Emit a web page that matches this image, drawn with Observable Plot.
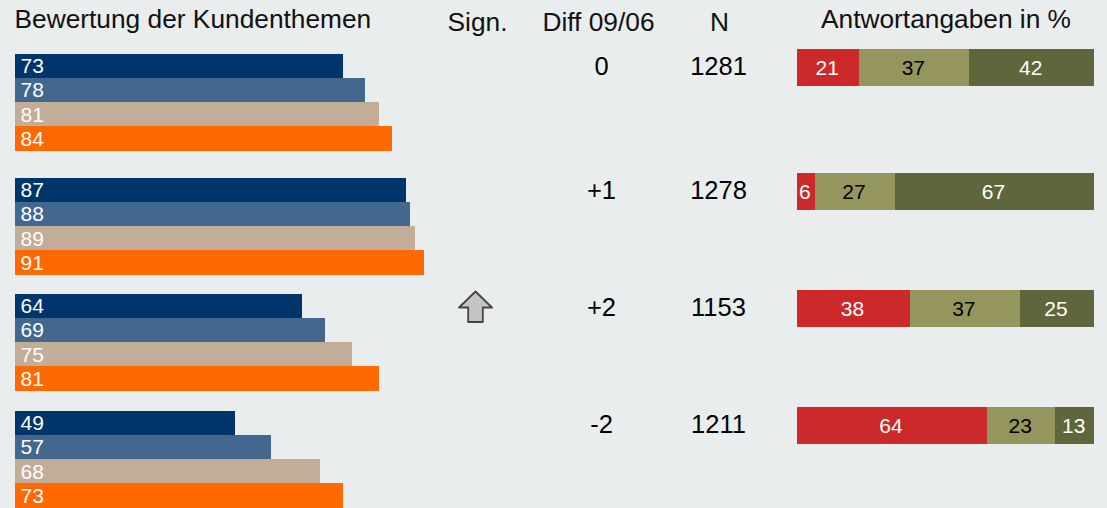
<!DOCTYPE html>
<html lang="de">
<head>
<meta charset="utf-8">
<script src="https://cdn.jsdelivr.net/npm/d3@7"></script>
<script src="https://cdn.jsdelivr.net/npm/@observablehq/plot@0.6"></script>
<style>
  html, body { margin: 0; padding: 0; background: #E9EDEE; }
  #chart { position: relative; width: 1107px; height: 508px; overflow: hidden; }
  #chart svg { position: absolute; left: 0; top: 0; background: transparent; }
</style>
</head>
<body>
<div id="chart"></div>
<script>
// ---- data ----
const topics = [0, 1, 2, 3];
const waves = ["Reihe 1", "Reihe 2", "Reihe 3", "Reihe 4"];
const waveColors = ["#00356B", "#426890", "#C2AD98", "#FF6900"];
const ratings = [
  [73, 78, 81, 84],
  [87, 88, 89, 91],
  [64, 69, 75, 81],
  [49, 57, 68, 73]
];
const signs = [0, 0, 1, 0];
const diffs = ["0", "+1", "+2", "-2"];
const counts = [1281, 1278, 1153, 1211];
const answerLevels = ["Stufe 1", "Stufe 2", "Stufe 3"];
const answerColors = ["#CC2A2A", "#95955E", "#60663C"];
const answerTextColors = ["#FFFFFF", "#000000", "#FFFFFF"];
const answers = [
  [21, 37, 42],
  [6, 27, 67],
  [38, 37, 25],
  [64, 23, 13]
];
const columns = ["Sign.", "Diff 09/06", "N"];

// ---- derived tables ----
const ROWS = 5; // four bar rows plus one gap row per topic
const barRows = topics.flatMap(t => waves.map((w, i) => ({
  wave: w, value: ratings[t][i], row: t * ROWS + i
})));
const stackRows = topics.flatMap(t => {
  let sum = 0;
  return answerLevels.map((level, i) => {
    const x1 = sum; sum += answers[t][i];
    return {level, i, value: answers[t][i], x1, x2: sum, t: t * ROWS};
  });
});
const midRows = topics.map(t => ({t: t * ROWS, diff: diffs[t], n: String(counts[t]), sign: signs[t]}));

// ---- shared options ----
const W = 1107, H = 508;
const font = "'Liberation Sans', Arial, sans-serif";
const frame = {
  width: W, height: H, margin: 0,
  style: {background: "transparent", fontFamily: font}
};
const headerY = 19, headerSize = 26.3, labelSize = 21, midSize = 25.5;
// uneven spacing between the topic groups: a piecewise transform feeds the y scale
const barWarp = d3.scaleLinear([0, 4, 5, 9, 10, 14, 15, 19], [54, 150.6, 178, 274.6, 294, 390.6, 411, 507.6]);
const stackWarp = d3.scaleLinear([0, 1, 5, 6, 10, 11, 15, 16], [49, 86, 173, 210, 290, 327, 407, 444]);
const barY = {axis: null, transform: barWarp, domain: [0, H], range: [0, H]};
const stackY = {axis: null, transform: stackWarp, domain: [0, H], range: [0, H]};
const arrow = {
  draw(c, size) {
    const r = Math.sqrt(size / Math.PI) / 17;
    const pts = [[0, -16.5], [16.5, -0.5], [7.3, -0.5], [7.3, 14], [-7.3, 14], [-7.3, -0.5], [-16.5, -0.5]];
    pts.forEach(([x, y], i) => i ? c.lineTo(x * r, y * r) : c.moveTo(x * r, y * r));
    c.closePath();
  }
};

// ---- left block: rating bars ----
const left = Plot.plot({
  ...frame,
  x: {axis: null, domain: [0, 100], range: [15, 15 + 449]},
  y: barY,
  color: {domain: waves, range: waveColors},
  marks: [
    Plot.rect(barRows, {x1: 0, x2: "value", y1: "row", y2: d => d.row + 1, fill: "wave", shapeRendering: "crispEdges"}),
    Plot.text(barRows, {
      x: 0, y: d => d.row + 0.5, text: "value", textAnchor: "start", dx: 5,
      fill: "#FFFFFF", fontSize: labelSize
    }),
    Plot.text(["Bewertung der Kundenthemen"], {
      frameAnchor: "top-left", text: d => d, dx: 14, dy: headerY,
      lineAnchor: "middle", fill: "#111111", fontSize: headerSize
    })
  ]
});

// ---- middle block: significance, difference and count columns ----
const middle = Plot.plot({
  ...frame,
  x: {axis: null, type: "point", domain: columns, range: [477, 719], padding: 0},
  y: stackY,
  marks: [
    Plot.text(columns, {
      x: d => d, text: d => d, frameAnchor: "top", dy: headerY + 3,
      lineAnchor: "middle", fill: "#111111", fontSize: headerSize
    }),
    Plot.dot(midRows.filter(d => d.sign > 0), {
      x: () => columns[0], y: d => d.t + 0.5, dx: -2, dy: -1,
      r: 17, symbol: arrow, fill: "#C4C4C4", stroke: "#454545", strokeWidth: 1.8, strokeLinejoin: "round"
    }),
    Plot.text(midRows, {
      x: () => columns[1], y: d => d.t + 0.5, text: "diff", dx: 3, dy: -1,
      fill: "#000000", fontSize: midSize
    }),
    Plot.text(midRows, {
      x: () => columns[2], y: d => d.t + 0.5, text: "n", dx: -1, dy: -1,
      fill: "#000000", fontSize: midSize
    })
  ]
});

// ---- right block: answer shares ----
const right = Plot.plot({
  ...frame,
  x: {axis: null, domain: [0, 100], range: [797, 1094]},
  y: stackY,
  color: {domain: answerLevels, range: answerColors},
  marks: [
    Plot.rect(stackRows, {x1: "x1", x2: "x2", y1: "t", y2: d => d.t + 1, fill: "level", shapeRendering: "crispEdges"}),
    ...answerLevels.map((level, i) => Plot.text(stackRows.filter(d => d.i === i), {
      x: d => (d.x1 + d.x2) / 2, y: d => d.t + 0.5, text: "value", dx: -1.5,
      fill: answerTextColors[i], fontSize: labelSize
    })),
    Plot.text(["Antwortangaben in %"], {
      x: () => 50, text: d => d, frameAnchor: "top", dy: headerY,
      lineAnchor: "middle", fill: "#111111", fontSize: headerSize
    })
  ]
});

document.getElementById("chart").append(left, middle, right);
</script>
</body>
</html>
